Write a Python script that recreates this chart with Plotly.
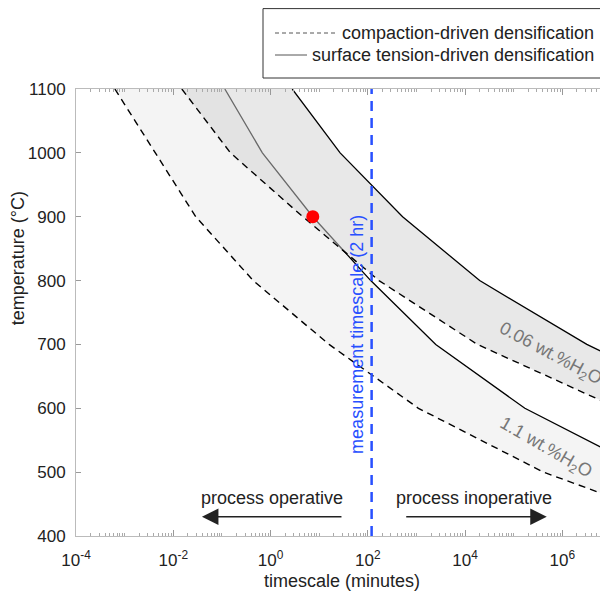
import numpy as np
import plotly.graph_objects as go

# ---------------- data ----------------
# compaction-driven densification, 1.1 wt.% H2O (dashed, left)
temp_comp_11 = [1100, 1000, 900, 800, 700, 600, 500, 400]
time_comp_11 = [6.3e-4, 4.2e-3, 2.9e-2, 0.44, 16, 1.1e3, 4.1e5, 1.6e9]
# compaction-driven densification, 0.06 wt.% H2O (dashed, middle)
temp_comp_006 = [1100, 1000, 900, 800, 700, 600]
time_comp_006 = [1.5e-2, 0.15, 4.6, 1.7e2, 1.8e4, 1.4e7]
# surface tension-driven densification, 0.06 wt.% H2O (solid, right)
temp_surf_006 = [1100, 1000, 900, 800, 700, 600]
time_surf_006 = [2.8, 27, 5.2e2, 2.0e4, 3.2e6, 1.6e9]
# surface tension-driven densification, 1.1 wt.% H2O (solid)
temp_surf_11 = [1100, 1000, 900, 800, 700, 600, 500]
time_surf_11 = [0.115, 0.68, 7.4, 1.15e2, 2.5e3, 1.7e5, 6.3e7]

# experiment point
point_time = [7.4]
point_temp = [900]

# measurement timescale (2 hr in minutes)
measurement_time = 120

x_tick_exponents = [-4, -2, 0, 2, 4, 6]
x_tick_labels = ["10<sup>-4</sup>", "10<sup>-2</sup>", "10<sup>0</sup>",
                 "10<sup>2</sup>", "10<sup>4</sup>", "10<sup>6</sup>"]
y_ticks = [400, 500, 600, 700, 800, 900, 1000, 1100]

legend_labels = ["compaction-driven densification", "surface tension-driven densification"]

FONT = "Liberation Sans, Arial, Helvetica, sans-serif"
BLUE = "rgb(40,80,255)"

# The page body adds an 8 px margin, so the figure is sized to fit the window
# and all layout positions below are given in window pixels minus that offset.
OFF = 8
W, H = 608 - OFF, 592 - OFF
L, R, T, B = 76 - OFF, 0, 89 - OFF, 56
PW, PH = W - L - R, H - T - B


def px(x):
    return (x - OFF - L) / PW


def py(y):
    return (H - B - (y - OFF)) / PH


fig = go.Figure()

# band for 1.1 wt.% (between compaction and surface tension curves)
fig.add_trace(go.Scatter(
    x=time_comp_11 + time_surf_11[::-1],
    y=temp_comp_11 + temp_surf_11[::-1],
    fill="toself", fillcolor="rgba(0,0,0,0.045)", mode="none",
    hoverinfo="skip", showlegend=False))

# surface tension 1.1 wt.% line (beneath the 0.06 band so that it turns grey inside it)
fig.add_trace(go.Scatter(
    x=time_surf_11, y=temp_surf_11, mode="lines",
    line=dict(color="black", width=1.3), showlegend=False, hoverinfo="skip"))

# band for 0.06 wt.%
fig.add_trace(go.Scatter(
    x=time_comp_006 + time_surf_006[::-1],
    y=temp_comp_006 + temp_surf_006[::-1],
    fill="toself", fillcolor="rgba(210,210,210,0.5)", mode="none",
    hoverinfo="skip", showlegend=False))

# compaction curves
fig.add_trace(go.Scatter(
    x=time_comp_11, y=temp_comp_11, mode="lines", name=legend_labels[0],
    line=dict(color="black", width=1.4, dash="7px,5px"), showlegend=False))
fig.add_trace(go.Scatter(
    x=time_comp_006, y=temp_comp_006, mode="lines", name=legend_labels[0],
    line=dict(color="black", width=1.4, dash="7px,5px"), showlegend=False))

# surface tension 0.06 curve
fig.add_trace(go.Scatter(
    x=time_surf_006, y=temp_surf_006, mode="lines", name=legend_labels[1],
    line=dict(color="black", width=1.3), showlegend=False))

# measurement timescale line
fig.add_trace(go.Scatter(
    x=[measurement_time, measurement_time], y=[y_ticks[0], y_ticks[-1]],
    mode="lines", line=dict(color=BLUE, width=2.5, dash="10px,7px"),
    showlegend=False, hoverinfo="skip"))

# red point
fig.add_trace(go.Scatter(
    x=point_time, y=point_temp, mode="markers",
    marker=dict(color="red", size=13, line=dict(width=0)), showlegend=False))

minor_vals = [d * 10.0 ** k for k in range(-4, 8) for d in range(1, 10)
              if not (d == 1 and k % 2 == 0)]

fig.update_xaxes(
    type="log", range=[-4, 6.94], automargin=False,
    tickmode="array", tickvals=[10.0 ** e for e in x_tick_exponents], ticktext=x_tick_labels,
    ticks="inside", ticklen=6, tickcolor="#999", tickwidth=1,
    minor=dict(ticks="inside", ticklen=3, tickcolor="#aaa", tickvals=minor_vals),
    showline=True, linecolor="#bbb", linewidth=1, mirror="allticks",
    showgrid=False, zeroline=False, ticklabelstandoff=9,
    tickfont=dict(family=FONT, size=17, color="#222"),
    title=dict(text="timescale (minutes)", font=dict(family=FONT, size=18, color="#222"),
               standoff=4))
fig.update_yaxes(
    range=[400, 1100], tickmode="array", tickvals=y_ticks, automargin=False,
    ticks="inside", ticklen=5, tickcolor="#999", tickwidth=1,
    showline=True, linecolor="#bbb", linewidth=1, mirror="allticks",
    showgrid=False, zeroline=False, ticklabelstandoff=6,
    tickfont=dict(family=FONT, size=17, color="#222"))

annotations = [
    dict(x=px(18), y=835, xref="paper", yref="y", xanchor="center", yanchor="middle",
         text="temperature (°C)", textangle=-90, showarrow=False,
         font=dict(family=FONT, size=18, color="#222")),
    dict(x=np.log10(measurement_time) - 0.3, y=715, xref="x", yref="y",
         text="measurement timescale (2 hr)", textangle=-90, showarrow=False,
         font=dict(family=FONT, size=18, color=BLUE)),
    dict(x=5.76, y=685, xref="x", yref="y", text="0.06 wt.%H<sub>2</sub>O",
         textangle=28, showarrow=False, font=dict(family=FONT, size=18, color="#777")),
    dict(x=5.66, y=537, xref="x", yref="y", text="1.1 wt.%H<sub>2</sub>O",
         textangle=30, showarrow=False, font=dict(family=FONT, size=18, color="#777")),
    dict(x=0.03, y=460, xref="x", yref="y", text="process operative",
         showarrow=False, font=dict(family=FONT, size=18, color="#222")),
    dict(x=4.18, y=460, xref="x", yref="y", text="process inoperative",
         showarrow=False, font=dict(family=FONT, size=18, color="#222")),
    dict(x=-1.41, y=430, ax=1.49, ay=430, xref="x", yref="y", axref="x", ayref="y",
         text="", showarrow=True, arrowhead=2, arrowsize=2.2, arrowwidth=1.5,
         arrowcolor="#222"),
    dict(x=5.68, y=430, ax=2.76, ay=430, xref="x", yref="y", axref="x", ayref="y",
         text="", showarrow=True, arrowhead=2, arrowsize=2.2, arrowwidth=1.5,
         arrowcolor="#222"),
    # legend texts
    dict(x=px(596), y=py(33), xref="paper", yref="paper", xanchor="right", yanchor="middle",
         text=legend_labels[0], showarrow=False, font=dict(family=FONT, size=18, color="#222")),
    dict(x=px(596), y=py(55), xref="paper", yref="paper", xanchor="right", yanchor="middle",
         text=legend_labels[1], showarrow=False, font=dict(family=FONT, size=18, color="#222")),
]

shapes = [
    dict(type="rect", xref="paper", yref="paper",
         x0=px(263), x1=px(640), y0=py(78), y1=py(8.6),
         line=dict(color="#333", width=1), fillcolor="white", layer="above"),
    dict(type="line", xref="paper", yref="paper",
         x0=px(275), x1=px(335), y0=py(33), y1=py(33),
         line=dict(color="#555", width=1, dash="4px,3px")),
    dict(type="line", xref="paper", yref="paper",
         x0=px(275), x1=px(307), y0=py(55), y1=py(55),
         line=dict(color="#555", width=1)),
]

fig.update_layout(
    width=W, height=H,
    margin=dict(l=L, r=R, t=T, b=B, autoexpand=False),
    paper_bgcolor="white", plot_bgcolor="white",
    font=dict(family=FONT, color="#222"),
    annotations=annotations, shapes=shapes, showlegend=False,
)

fig.write_html("out.html")
